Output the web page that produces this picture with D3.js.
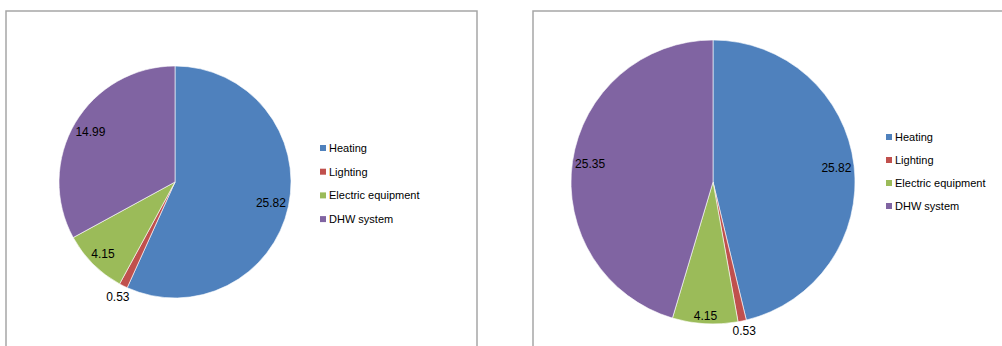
<!DOCTYPE html>
<html>
<head>
<meta charset="utf-8">
<script src="https://cdn.jsdelivr.net/npm/d3@7/dist/d3.min.js"></script>
<style>
  html, body { margin: 0; padding: 0; background: #fff; }
  svg { display: block; font-family: "Liberation Sans", Arial, sans-serif; }
</style>
</head>
<body>
<svg id="chart" width="1002" height="346"></svg>
<script>
// End-use breakdown for two cases
const categories = ["Heating", "Lighting", "Electric equipment", "DHW system"];
const caseAValues = [25.82, 0.53, 4.15, 14.99];
const caseBValues = [25.82, 0.53, 4.15, 25.35];
const sliceColors = ["#4F81BD", "#C0504D", "#9BBB59", "#8064A2"];

const svg = d3.select("#chart");
const color = d3.scaleOrdinal().domain(categories).range(sliceColors);

const panels = [
  { values: caseAValues, frame: { x: 6, y: 11, w: 471 }, cx: 175, cy: 182, r: 116, legendX: 320, legendY: 148, legendStep: 23.7 },
  { values: caseBValues, frame: { x: 533, y: 11, w: 520 }, cx: 713, cy: 182, r: 142, legendX: 886, legendY: 137, legendStep: 23 }
];

// Distance along a direction so that the farthest (inside) or nearest (outside)
// corner of a label box sits at the given radius.
function placeLabel(theta, w, h, target, inside) {
  const ux = Math.sin(theta), uy = -Math.cos(theta);
  let lo = 0, hi = target * 2;
  for (let i = 0; i < 40; i++) {
    const d = (lo + hi) / 2;
    const px = d * ux, py = d * uy;
    const corners = [[px - w/2, py - h/2], [px + w/2, py - h/2], [px - w/2, py + h/2], [px + w/2, py + h/2]]
      .map(c => Math.hypot(c[0], c[1]));
    const m = inside ? Math.max(...corners) : Math.min(...corners);
    if (m < target) lo = d; else hi = d;
  }
  const d = (lo + hi) / 2;
  return [d * ux, d * uy];
}

panels.forEach(p => {
  svg.append("rect")
    .attr("x", p.frame.x).attr("y", p.frame.y)
    .attr("width", p.frame.w).attr("height", 400)
    .attr("fill", "#fff")
    .attr("stroke", "#a6a6a6").attr("stroke-width", 1.5);

  const data = categories.map((c, i) => ({ cat: c, value: p.values[i] }));
  const pie = d3.pie().sort(null).value(d => d.value);
  const arcs = pie(data);
  const arc = d3.arc().innerRadius(0).outerRadius(p.r);

  const g = svg.append("g").attr("transform", `translate(${p.cx},${p.cy})`);
  g.selectAll("path.slice").data(arcs).join("path")
    .attr("class", "slice")
    .attr("d", arc)
    .attr("fill", d => color(d.data.cat))
    .attr("stroke", "#fff").attr("stroke-width", 0.6);

  // Data labels: inside the rim when they fit, just outside otherwise
  arcs.forEach(a => {
    const t = g.append("text")
      .attr("font-size", 12)
      .attr("fill", "#000")
      .attr("text-anchor", "middle")
      .attr("dy", "0.35em")
      .text(a.data.value.toFixed(2));
    const bb = t.node().getBBox();
    const w = bb.width, h = 10;
    const mid = (a.startAngle + a.endAngle) / 2;
    const chord = (a.endAngle - a.startAngle) * (p.r - 20);
    const inside = chord > w;
    const [x, y] = inside ? placeLabel(mid, w, h, p.r - 2, true)
                          : placeLabel(mid, w, h, p.r + 3, false);
    t.attr("x", x).attr("y", y);
  });

  // Legend
  const lg = svg.append("g").attr("transform", `translate(${p.legendX},${p.legendY})`);
  const items = lg.selectAll("g").data(categories).join("g")
    .attr("transform", (d, i) => `translate(0,${i * p.legendStep})`);
  items.append("rect")
    .attr("x", 0).attr("y", -3).attr("width", 6).attr("height", 6)
    .attr("fill", d => color(d));
  items.append("text")
    .attr("x", 9).attr("y", 0).attr("dy", "0.35em")
    .attr("font-size", 11).attr("fill", "#000")
    .text(d => d);
});
</script>
</body>
</html>
